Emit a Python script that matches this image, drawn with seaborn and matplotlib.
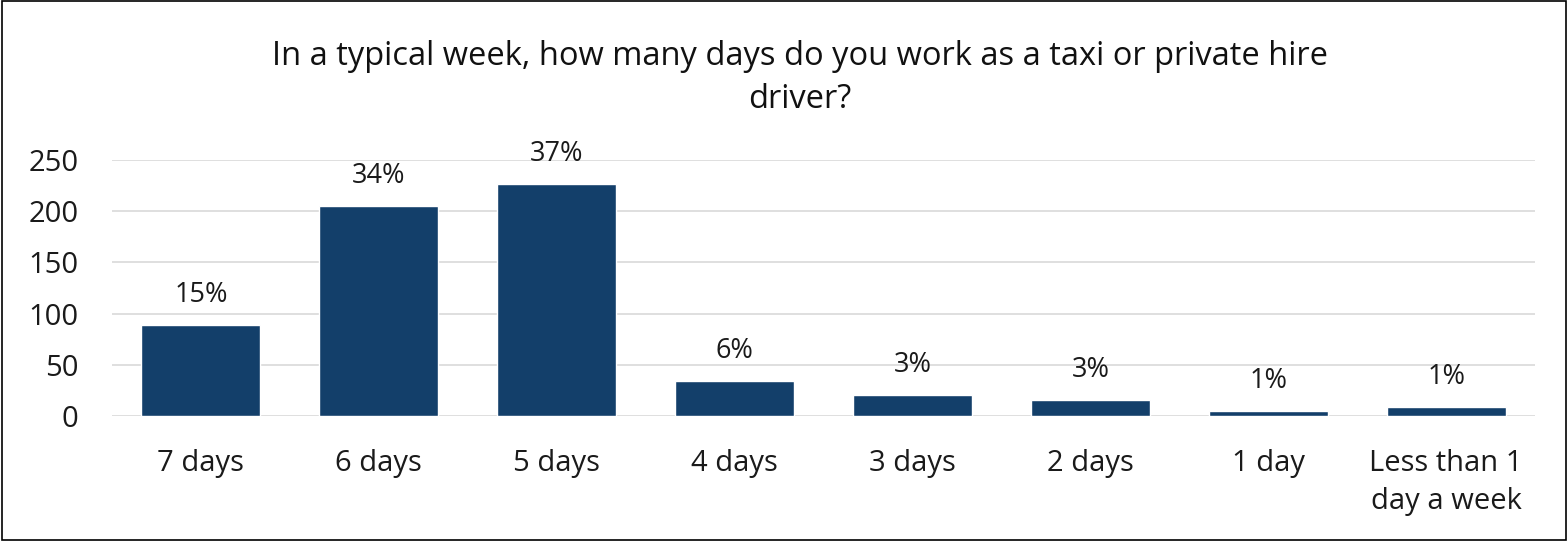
import numpy as np
import pandas as pd
import matplotlib.pyplot as plt
import seaborn as sns
from matplotlib.patches import Rectangle

categories = ['7 days', '6 days', '5 days', '4 days', '3 days', '2 days', '1 day', 'Less than 1\nday a week']
counts = [89, 205, 227, 34, 21, 16, 5, 9]
pct_labels = ['15%', '34%', '37%', '6%', '3%', '3%', '1%', '1%']

df = pd.DataFrame({'days': categories, 'count': counts})

sns.set_theme(style='white')
plt.rcParams['font.family'] = ['Open Sans', 'DejaVu Sans']

fig = plt.figure(figsize=(15.68, 5.41), dpi=100)
ax = fig.add_axes([0.0714, 0.231, 0.9076, 0.473])

sns.barplot(data=df, x='days', y='count', color='#133f6a', width=0.67, saturation=1, ax=ax)

#percent labels above bars
for i, (v, lab) in enumerate(zip(counts, pct_labels)):
    ax.annotate(lab, (i, v), xytext=(0, 21.5), textcoords='offset points',
                ha='center', va='center', fontsize=19.5, color='#1a1a1a')

ax.set_ylim(0, 250)
ax.set_xlim(-0.5, len(categories) - 0.5)
ax.set_yticks(range(0, 251, 50))
ax.yaxis.grid(True, color='#d9d9d9', linewidth=1.2)
ax.set_axisbelow(True)
for s in ax.spines.values():
    s.set_visible(False)
ax.set_xlabel('')
ax.set_ylabel('')
ax.tick_params(axis='y', labelsize=21, colors='#1a1a1a', pad=24, length=0)
ax.tick_params(axis='x', labelsize=21, colors='#1a1a1a', pad=24, length=0)
for t in ax.get_yticklabels():
    t.set_horizontalalignment('right')
for t in ax.get_xticklabels():
    t.set_linespacing(1.4)

fig.text(0.51, 0.855, 'In a typical week, how many days do you work as a taxi or private hire\ndriver?',
         ha='center', va='center', fontsize=23.5, fontweight='medium', color='#111111', linespacing=1.4)

fig.patches.append(Rectangle((0.001, 0.002), 0.998, 0.996, transform=fig.transFigure,
                             fill=False, edgecolor='black', linewidth=1.2))

fig.savefig('out.png', dpi=100)
